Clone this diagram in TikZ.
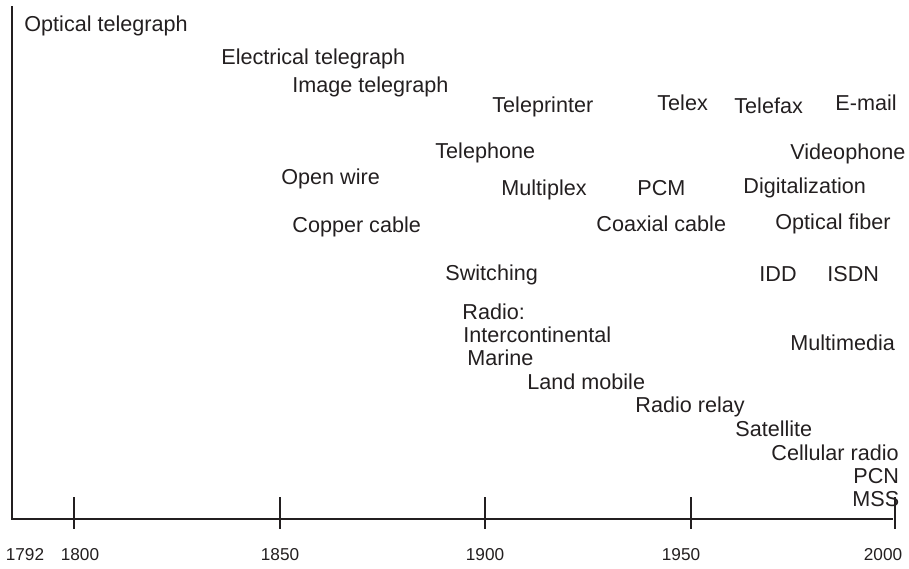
\documentclass[tikz,border=0pt]{standalone}
\usepackage{fontspec}
\setmainfont{Liberation Sans}
\usepackage{tikz}
\usetikzlibrary{positioning}
\definecolor{inkgray}{RGB}{35,31,32}
\tikzset
{
    event/.style    = {anchor=base west, inner sep=0pt, text=inkgray, font=\fontsize{10.8}{13}\selectfont},
    yearlabel/.style = {anchor=base, inner sep=0pt, text=inkgray, font=\fontsize{8.6}{10}\selectfont},
    axisline/.style = {draw=inkgray, line width=1pt}
}

\begin{document}
\begin{tikzpicture}[x=0.5pt, y=-0.5pt]
    \useasboundingbox (0,0) rectangle (909,568);

    % axes
    \coordinate (top) at (12,6);
    \coordinate (origin) at (12,519);
    \coordinate (axend) at (893,519);
    \draw [axisline] (top) -- (origin) -- (axend);
    \foreach \x/\yr in {74/1800, 280/1850, 485/1900, 691/1950, 895/2000}
    {
        \coordinate (tick\yr) at (\x,497);
        \coordinate (foot\yr) at (\x,529);
        \draw [axisline] (tick\yr) -- (foot\yr);
    }

    % years
    \node [yearlabel] (y1792) at (25,560) {1792};
    \node [yearlabel] (y1800) at (80,560) {1800};
    \node [yearlabel] (y1850) at (280,560) {1850};
    \node [yearlabel] (y1900) at (485,560) {1900};
    \node [yearlabel] (y1950) at (681,560) {1950};
    \node [yearlabel] (y2000) at (883,560) {2000};

    % telegraphy
    \node [event] (optel) at (24,31) {Optical telegraph};
    \node [event] (eltel) at (221,64) {Electrical telegraph};
    \node [event] (imtel) at (292,92) {Image telegraph};
    \node [event] (teleprinter) at (492,112) {Teleprinter};
    \node [event] (telex) at (657,110) {Telex};
    \node [event] (telefax) at (734,113) {Telefax};
    \node [event] (email) at (835,110) {E-mail};

    % telephony
    \node [event] (telephone) at (435,158) {Telephone};
    \node [event] (videophone) at (790,159) {Videophone};
    \node [event] (openwire) at (281,184) {Open wire};
    \node [event] (multiplex) at (501,195) {Multiplex};
    \node [event] (pcm) at (637,195) {PCM};
    \node [event] (digital) at (743,193) {Digitalization};
    \node [event] (copper) at (292,232) {Copper cable};
    \node [event] (coax) at (596,231) {Coaxial cable};
    \node [event] (fiber) at (775,229) {Optical fiber};
    \node [event] (switching) at (445,280) {Switching};
    \node [event] (idd) at (759,281) {IDD};
    \node [event] (isdn) at (827,281) {ISDN};
    \node [event] (multimedia) at (790,350) {Multimedia};

    % radio
    \node [event] (radio) at (462,319) {Radio:};
    \node [event] (intercont) at (463,342) {Intercontinental};
    \node [event] (marine) at (467,365) {Marine};
    \node [event] (landmobile) at (527,389) {Land mobile};
    \node [event] (relay) at (635,412) {Radio relay};
    \node [event] (satellite) at (735,436) {Satellite};
    \node [event] (cellular) at (771,460) {Cellular radio};
    \node [event] (pcn) at (853,483) {PCN};
    \node [event] (mss) at (852,506) {MSS};
\end{tikzpicture}
\end{document}
